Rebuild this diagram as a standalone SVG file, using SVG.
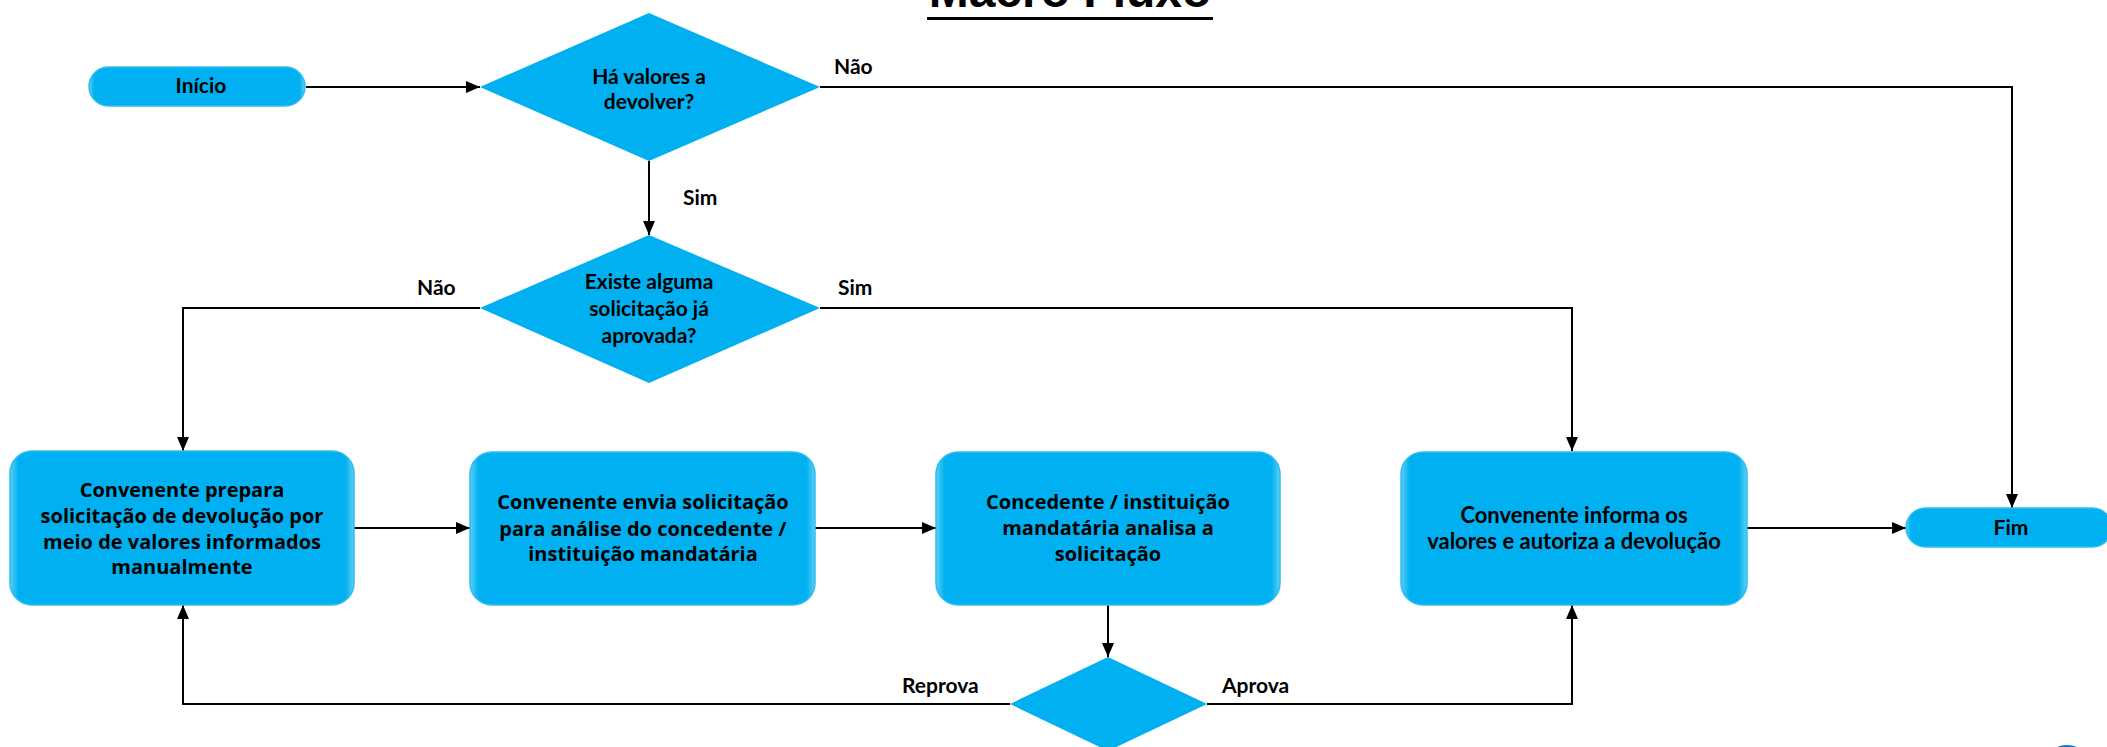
<svg xmlns="http://www.w3.org/2000/svg" width="2107" height="747" viewBox="0 0 2107 747">
<style>
.box{fill:url(#gloss);stroke:#2FBEF2;stroke-width:1.5}
.dia{fill:#00B0F0}
.t{font-family:Lato,"Open Sans",sans-serif;font-weight:bold;font-size:21px;fill:#000;text-anchor:middle}
.t2{font-family:Lato,"Open Sans",sans-serif;font-weight:bold;font-size:22px;fill:#000;text-anchor:middle}
.bt{font-family:"Open Sans",Lato,sans-serif;font-weight:bold;font-size:20px;fill:#000;text-anchor:middle}
.lbl{font-family:Lato,"Open Sans",sans-serif;font-weight:bold;font-size:21px;fill:#000}
.c{fill:none;stroke:#000;stroke-width:2;marker-end:url(#arr)}
</style>
<defs>
<marker id="arr" viewBox="0 0 14 12" refX="14" refY="6" markerWidth="14" markerHeight="12" markerUnits="userSpaceOnUse" orient="auto">
<path d="M0,0 L14,6 L0,12 z" fill="#000"/>
</marker>
<linearGradient id="gloss" x1="0" y1="0" x2="1" y2="0">
<stop offset="0" stop-color="#5CD0F6"/>
<stop offset="0.025" stop-color="#00B0F0"/>
<stop offset="0.975" stop-color="#00B0F0"/>
<stop offset="1" stop-color="#5CD0F6"/>
</linearGradient>
</defs>
<rect width="2107" height="747" fill="#fff"/>
<g id="title">
<text x="1070" y="7" font-family="'Liberation Sans',Arial,sans-serif" font-weight="bold" font-size="48" text-anchor="middle" fill="#000">Macro Fluxo</text>
<rect x="927" y="17" width="286" height="3" fill="#000"/>
</g>
<g id="connectors">
<path class="c" d="M306,87 H480"/>
<path class="c" d="M820,87 H2012 V508"/>
<path class="c" d="M649,161 V235"/>
<path class="c" d="M480,308 H183 V451"/>
<path class="c" d="M820,308 H1572 V451"/>
<path class="c" d="M354,528 H470"/>
<path class="c" d="M815,528 H936"/>
<path class="c" d="M1108,605 V657"/>
<path class="c" d="M1010,704 H183 V605"/>
<path class="c" d="M1207,704 H1572 V605"/>
<path class="c" d="M1747,528 H1906"/>
<text class="lbl" x="834" y="74">Não</text>
<text class="lbl" x="683" y="205">Sim</text>
<text class="lbl" x="417" y="295">Não</text>
<text class="lbl" x="838" y="295">Sim</text>
<text class="lbl" x="902" y="693">Reprova</text>
<text class="lbl" x="1222" y="693">Aprova</text>
</g>
<g id="inicio">
<rect class="box" x="89" y="67" width="216" height="39" rx="19.5"/>
<text class="t" x="201" y="86" dy="0.35em">Início</text>
</g>
<g id="d1">
<polygon class="dia" points="649,13 820,87 649,161 480,87"/>
<text class="t" x="649" y="77" dy="0.35em">Há valores a</text>
<text class="t" x="649" y="102" dy="0.35em">devolver?</text>
</g>
<g id="d2">
<polygon class="dia" points="649,235 820,308 649,383 480,308"/>
<text class="t" x="649" y="282" dy="0.35em">Existe alguma</text>
<text class="t" x="649" y="309" dy="0.35em">solicitação já</text>
<text class="t" x="649" y="336" dy="0.35em">aprovada?</text>
</g>
<g id="box1">
<rect class="box" x="10" y="451" width="344" height="154" rx="22"/>
<text class="bt" x="182" y="490" dy="0.35em">Convenente prepara</text>
<text class="bt" x="182" y="516" dy="0.35em">solicitação de devolução por</text>
<text class="bt" x="182" y="542" dy="0.35em">meio de valores informados</text>
<text class="bt" x="182" y="567" dy="0.35em">manualmente</text>
</g>
<g id="box2">
<rect class="box" x="470" y="452" width="345" height="153" rx="22"/>
<text class="bt" x="643" y="502" dy="0.35em">Convenente envia solicitação</text>
<text class="bt" x="643" y="529" dy="0.35em">para análise do concedente /</text>
<text class="bt" x="643" y="554" dy="0.35em">instituição mandatária</text>
</g>
<g id="box3">
<rect class="box" x="936" y="452" width="344" height="153" rx="22"/>
<text class="bt" x="1108" y="502" dy="0.35em">Concedente / instituição</text>
<text class="bt" x="1108" y="528" dy="0.35em">mandatária analisa a</text>
<text class="bt" x="1108" y="554" dy="0.35em">solicitação</text>
</g>
<g id="d3">
<polygon class="dia" points="1108,657 1207,704 1108,751 1010,704"/>
</g>
<g id="box4">
<rect class="box" x="1401" y="452" width="346" height="153" rx="22"/>
<text class="t2" x="1574" y="515" dy="0.35em">Convenente informa os</text>
<text class="t2" x="1574" y="541" dy="0.35em">valores e autoriza a devolução</text>
</g>
<g id="fim">
<rect class="box" x="1906" y="508" width="206" height="39" rx="19.5"/>
<text class="t" x="2011" y="528" dy="0.35em">Fim</text>
</g>
<circle cx="2067" cy="771" r="26" fill="#1A6FB5"/>
</svg>
